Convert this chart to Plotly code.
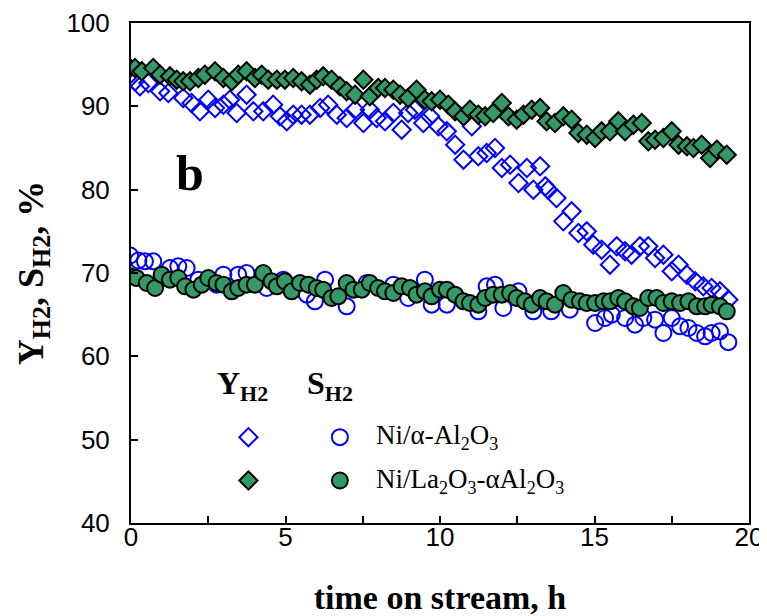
import plotly.graph_objects as go

# ---- data ----
t_y_alpha = [-0.09, 0.13, 0.29, 0.56, 0.94, 1.21, 1.69, 1.96, 2.23, 2.5, 2.72, 2.99, 3.2, 3.42, 3.74, 3.96,
             4.28, 4.6, 4.82, 5.04, 5.25, 5.52, 5.79, 6.12, 6.38, 6.66, 6.98, 7.25, 7.52, 7.73, 7.95, 8.22,
             8.49, 8.76, 8.97, 9.19, 9.46, 9.68, 9.95, 10.22, 10.49, 10.76, 11.03, 11.24, 11.51, 11.78, 12.0,
             12.27, 12.54, 12.81, 13.02, 13.24, 13.41, 13.5, 13.77, 13.99, 14.26, 14.48, 14.75, 14.96, 15.23,
             15.5, 15.72, 15.99, 16.2, 16.47, 16.74, 16.96, 17.23, 17.5, 17.72, 17.99, 18.26, 18.52, 18.79,
             19.06, 19.33]
y_alpha = [93.6, 93.0, 92.4, 92.8, 91.8, 91.6, 91.0, 90.4, 89.4, 90.8, 89.8, 90.2, 90.8, 89.2, 91.4, 89.4,
           89.4, 90.2, 88.8, 88.2, 89.0, 89.0, 89.0, 89.8, 90.2, 89.0, 88.6, 89.6, 88.0, 89.6, 88.6, 88.2,
           89.2, 87.2, 89.2, 89.6, 88.0, 88.8, 87.6, 87.0, 85.4, 83.6, 87.6, 84.0, 84.4, 85.0, 82.6,
           83.0, 80.8, 82.6, 80.0, 82.8, 80.4, 80.0, 79.0, 76.2, 77.4, 74.8, 75.0, 73.4, 72.8,
           71.0, 73.2, 72.6, 72.2, 73.2, 73.2, 71.8, 72.2, 70.2, 71.0, 69.8, 69.0, 68.4, 68.2,
           67.8, 66.8]

t_y_la = [-0.09, 0.13, 0.35, 0.72, 0.94, 1.26, 1.48, 1.69, 1.91, 2.18, 2.39, 2.72, 2.99, 3.26, 3.47, 3.74,
          4.01, 4.23, 4.44, 4.72, 4.98, 5.25, 5.52, 5.79, 6.01, 6.22, 6.49, 6.76, 6.98, 7.25, 7.52, 7.73,
          8.0, 8.22, 8.49, 8.71, 8.97, 9.24, 9.51, 9.73, 10.0, 10.27, 10.49, 10.76, 10.97, 11.24, 11.46,
          11.72, 12.0, 12.21, 12.48, 12.7, 12.97, 13.24, 13.45, 13.72, 13.99, 14.26, 14.48, 14.75, 15.02,
          15.23, 15.5, 15.77, 15.99, 16.26, 16.53, 16.74, 16.96, 17.23, 17.5, 17.72, 17.99, 18.2, 18.47,
          18.74, 18.96, 19.28]
y_la = [94.8, 94.6, 94.2, 94.6, 93.8, 93.6, 93.2, 93.0, 93.0, 93.4, 93.8, 94.2, 93.4, 93.0, 93.8, 94.2,
        93.4, 93.8, 93.2, 93.2, 93.2, 93.4, 93.0, 92.6, 93.2, 93.6, 93.2, 92.4, 91.8, 91.4, 93.2, 91.2,
        92.2, 92.2, 92.0, 91.4, 91.0, 92.0, 90.8, 90.6, 90.8, 90.2, 89.4, 88.8, 89.6, 89.0, 88.8,
        89.2, 90.4, 88.8, 88.4, 89.0, 89.6, 89.8, 88.2, 88.0, 88.8, 88.4, 86.8, 86.6, 86.2,
        87.0, 87.0, 88.2, 87.0, 87.8, 88.0, 85.8, 86.0, 86.2, 87.0, 85.4, 85.2, 85.0, 85.4,
        83.8, 84.8, 84.2]

t_s_alpha = [-0.03, 0.24, 0.45, 0.72, 1.26, 1.53, 1.8, 2.18, 2.77, 2.99, 3.47, 3.74, 4.39, 4.93, 5.69, 5.95,
             6.28, 6.98, 7.63, 8.49, 8.97, 9.51, 9.73, 10.22, 11.24, 11.51, 11.78, 12.05, 12.54, 13.02,
             13.34, 13.6, 14.2, 15.02, 15.34, 15.56, 15.99, 16.31, 16.58, 16.96, 17.23, 17.5, 17.77, 18.04,
             18.31, 18.58, 18.79, 19.06, 19.33]
s_alpha = [72.1, 71.5, 71.4, 71.4, 70.6, 70.8, 70.6, 69.2, 68.6, 69.8, 69.8, 70.0, 68.2, 69.2, 67.4, 66.6,
           69.2, 66.0, 68.8, 68.6, 67.0, 69.2, 66.2, 66.2, 65.4, 68.4, 68.6, 65.8, 67.8, 65.4,
           66.6, 65.4, 65.6, 64.0, 64.6, 65.0, 64.6, 63.8, 64.6, 64.4, 62.8, 64.6, 63.6, 63.4,
           62.8, 62.4, 62.8, 63.0, 61.7]

t_s_la = [-0.03, 0.18, 0.51, 0.78, 0.99, 1.26, 1.53, 1.75, 2.02, 2.29, 2.5, 2.77, 2.99, 3.26, 3.47, 3.74,
          4.01, 4.28, 4.55, 4.72, 4.98, 5.2, 5.47, 5.74, 6.01, 6.22, 6.49, 6.71, 6.98, 7.2, 7.47, 7.73,
          8.0, 8.22, 8.49, 8.76, 9.03, 9.24, 9.51, 9.73, 10.0, 10.22, 10.49, 10.76, 10.97, 11.24, 11.46,
          11.72, 12.0, 12.27, 12.48, 12.75, 12.97, 13.24, 13.45, 13.72, 13.99, 14.26, 14.53, 14.75, 15.02,
          15.29, 15.5, 15.77, 15.99, 16.26, 16.47, 16.74, 17.01, 17.23, 17.5, 17.77, 18.04, 18.31, 18.58,
          18.79, 19.06, 19.28]
s_la = [69.6, 69.4, 68.8, 68.2, 69.8, 69.2, 69.4, 68.4, 68.0, 68.6, 69.4, 68.8, 68.6, 67.8, 68.2, 68.6,
        68.6, 70.0, 69.0, 68.4, 69.0, 67.8, 68.8, 68.6, 68.2, 68.0, 67.0, 67.2, 68.8, 68.0, 68.0, 68.8,
        68.2, 67.8, 67.6, 68.4, 68.2, 67.4, 67.8, 67.2, 68.0, 68.0, 67.4, 66.6, 66.4, 66.2, 67.0,
        67.4, 67.4, 67.6, 67.0, 66.6, 66.2, 67.0, 66.6, 66.2, 67.6, 66.8, 66.6, 66.4, 66.4,
        66.6, 66.6, 67.0, 66.6, 66.0, 65.8, 67.0, 67.0, 66.4, 66.6, 66.4, 66.6, 66.0, 66.0,
        66.2, 66.0, 65.4]

x_ticks = [0, 5, 10, 15, 20]
y_ticks = [40, 50, 60, 70, 80, 90, 100]


def sub(s, px):
    return "<sub><span style='font-size:%dpx'>%s</span></sub>" % (px, s)


label_alpha = "Ni/α-Al" + sub("2", 18) + "O" + sub("3", 18)
label_la = "Ni/La" + sub("2", 18) + "O" + sub("3", 18) + "-αAl" + sub("2", 18) + "O" + sub("3", 18)

# ---- styles ----
BLUE = "#0000FF"
GREEN = "#339966"
SERIF = "Liberation Serif, Times New Roman, serif"
SANS = "Liberation Sans, Arial, sans-serif"

dia_open = dict(symbol="diamond-open", size=14, color=BLUE, line=dict(color=BLUE, width=2))
cir_open = dict(symbol="circle-open", size=16, color=BLUE, line=dict(color=BLUE, width=2))
dia_fill = dict(symbol="diamond", size=14, color=GREEN, line=dict(color="black", width=2))
cir_fill = dict(symbol="circle", size=16, color=GREEN, line=dict(color="black", width=2))

fig = go.Figure()
fig.add_trace(go.Scatter(x=t_y_alpha, y=y_alpha, mode="markers", marker=dia_open, showlegend=False))
fig.add_trace(go.Scatter(x=t_s_alpha, y=s_alpha, mode="markers", marker=cir_open, showlegend=False))
fig.add_trace(go.Scatter(x=t_y_la, y=y_la, mode="markers", marker=dia_fill, showlegend=False))
fig.add_trace(go.Scatter(x=t_s_la, y=s_la, mode="markers", marker=cir_fill, showlegend=False))

# ---- in-plot legend (key glyphs) ----
LEG_X_DIA, LEG_X_CIR, LEG_X_TXT = 3.8, 6.76, 7.85
LEG_ROWS = [50.3, 45.1]
fig.add_trace(go.Scatter(x=[LEG_X_DIA], y=[LEG_ROWS[0]], mode="markers", marker=dia_open, showlegend=False))
fig.add_trace(go.Scatter(x=[LEG_X_CIR], y=[LEG_ROWS[0]], mode="markers", marker=cir_open, showlegend=False))
fig.add_trace(go.Scatter(x=[LEG_X_DIA], y=[LEG_ROWS[1]], mode="markers", marker=dia_fill, showlegend=False))
fig.add_trace(go.Scatter(x=[LEG_X_CIR], y=[LEG_ROWS[1]], mode="markers", marker=cir_fill, showlegend=False))

annots = [
    dict(x=3.6, y=56.5, text="<b>Y" + sub("H2", 22) + "</b>", font=dict(family=SERIF, size=32, color="black"),
         showarrow=False),
    dict(x=6.45, y=56.5, text="<b>S" + sub("H2", 22) + "</b>", font=dict(family=SERIF, size=32, color="black"),
         showarrow=False),
    dict(x=LEG_X_TXT, y=LEG_ROWS[0], text=label_alpha, xanchor="left",
         font=dict(family=SERIF, size=27, color="black"), showarrow=False),
    dict(x=LEG_X_TXT, y=LEG_ROWS[1], text=label_la, xanchor="left",
         font=dict(family=SERIF, size=27, color="black"), showarrow=False),
    dict(x=1.9, y=82, text="<b>b</b>", font=dict(family=SERIF, size=50, color="black"), showarrow=False),
]

fig.update_layout(
    width=759, height=608,
    margin=dict(l=123, r=18, t=15, b=93),
    paper_bgcolor="white", plot_bgcolor="white",
    annotations=annots,
    xaxis=dict(range=[0, 20], tickvals=x_ticks, ticks="inside", ticklen=7, tickwidth=1.5,
               tickcolor="black", showline=True, linewidth=2, linecolor="black", mirror=True,
               showgrid=False, zeroline=False, automargin=False, ticklabelstandoff=-10,
               minor=dict(dtick=2.5, tick0=0, ticks="inside", ticklen=7, tickwidth=1.5, tickcolor="black"),
               tickfont=dict(family=SANS, size=26, color="black"),
               title=dict(text="<b>time on stream, h</b>", font=dict(family=SERIF, size=34, color="black"),
                          standoff=36)),
    yaxis=dict(range=[40, 100], tickvals=y_ticks, ticks="inside", ticklen=7, tickwidth=1.5,
               tickcolor="black", showline=True, linewidth=2, linecolor="black", mirror=True,
               showgrid=False, zeroline=False, ticklabelstandoff=14, automargin=False,
               tickfont=dict(family=SANS, size=26, color="black"),
               title=dict(text="<b>Y" + sub("H2", 26) + ", S" + sub("H2", 26) + ", %</b>",
                          font=dict(family=SERIF, size=36, color="black"), standoff=12)),
)

fig.write_html("out.html")
